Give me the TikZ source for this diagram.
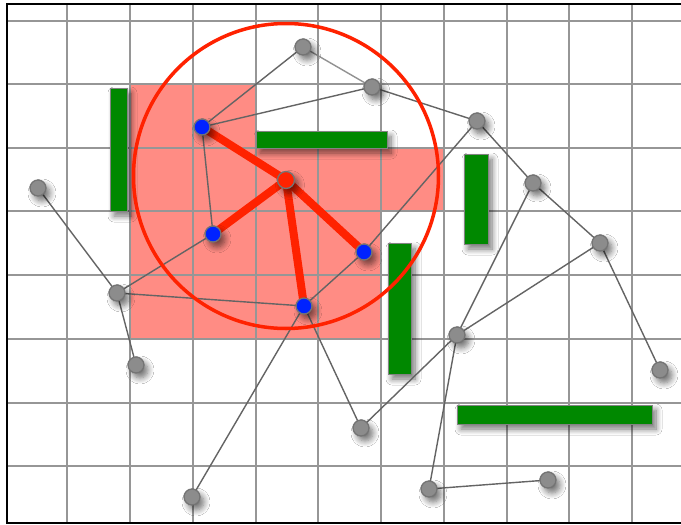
\documentclass[tikz,border=0pt]{standalone}
\usetikzlibrary{shadows.blur}
\definecolor{pinkc}{RGB}{255,140,132}
\definecolor{gridc}{RGB}{150,150,150}
\definecolor{edgec}{RGB}{100,100,100}
\definecolor{nodec}{RGB}{140,140,140}
\definecolor{greenc}{RGB}{0,136,0}
\definecolor{redc}{RGB}{255,34,0}
\definecolor{bluec}{RGB}{0,34,255}
\begin{document}
\begin{tikzpicture}[x=1pt,y=-1pt,
  shad/.style={blur shadow={shadow xshift=4pt,shadow yshift=-5pt,shadow blur radius=6pt,shadow blur steps=8,shadow opacity=55}},
  gnode/.style={circle,draw=edgec!90,line width=1.3pt,fill=nodec,minimum size=16pt,inner sep=0pt,shad},
  bnode/.style={circle,draw=edgec!90,line width=1.3pt,fill=bluec,minimum size=16pt,inner sep=0pt,shad},
  rnode/.style={circle,draw=edgec!90,line width=1.3pt,fill=redc,minimum size=17pt,inner sep=0pt,shad},
  edge/.style={draw=edgec,line width=1.4pt},
  redline/.style={draw=redc,line width=8pt},
  bar/.style={fill=greenc,draw=edgec!80,line width=1pt,shad},
  gridline/.style={draw=gridc,line width=2pt}]
\useasboundingbox (0,0) rectangle (681,525);
\fill[white] (0,0) rectangle (681,525);
\fill[pinkc] (130,84) -- (256,84) -- (256,148) -- (444,148) -- (444,211) -- (381,211) -- (381,339) -- (130,339) -- cycle;
\foreach \x in {67,130,193,256,318,381,444,507,569,632}
  \draw[gridline] (\x,4) -- (\x,523);
\foreach \y in {21,84,148,211,275,339,403,466}
  \draw[gridline] (7,\y) -- (681,\y);
\draw[black,line width=2.2pt] (681,4) -- (7,4) -- (7,523) -- (681,523);
% positions
\coordinate (A) at (303,47);
\coordinate (B) at (372,87);
\coordinate (C) at (477,121);
\coordinate (D) at (533,183);
\coordinate (E) at (600,243);
\coordinate (F) at (38,188);
\coordinate (G) at (117,293);
\coordinate (H) at (136,365);
\coordinate (I) at (192,497);
\coordinate (J) at (457,335);
\coordinate (K) at (660,370);
\coordinate (L) at (361,428);
\coordinate (M) at (429,489);
\coordinate (N) at (548,480);
\coordinate (P1) at (202,127);
\coordinate (P2) at (213,234);
\coordinate (P3) at (364,252);
\coordinate (P4) at (304,306);
\coordinate (R) at (286,180);
% green bars
\path[bar] (110,88) rectangle (127,211);
\path[bar] (256,131) rectangle (387,148);
\path[bar] (464,154) rectangle (488,244);
\path[bar] (388,243) rectangle (411,374);
\path[bar] (457,405) rectangle (652,424);
% connectors
\draw[edge] (A) -- (P1);
\draw[edge,draw=edgec!70] (A) -- (B);
\draw[edge] (B) -- (P1);
\draw[edge] (B) -- (C);
\draw[edge] (C) -- (D);
\draw[edge] (D) -- (E);
\draw[edge] (C) -- (P3);
\draw[edge] (D) -- (J);
\draw[edge] (E) -- (J);
\draw[edge] (E) -- (K);
\draw[edge] (J) -- (L);
\draw[edge] (J) -- (M);
\draw[edge] (M) -- (N);
\draw[edge] (F) -- (G);
\draw[edge] (G) -- (H);
\draw[edge] (G) -- (P2);
\draw[edge] (G) -- (P4);
\draw[edge] (P1) -- (P2);
\draw[edge] (P4) -- (I);
\draw[edge] (P4) -- (L);
\draw[edge] (P4) -- (P3);
\draw[redline] (R) -- (P1);
\draw[redline] (R) -- (P2);
\draw[redline] (R) -- (P3);
\draw[redline] (R) -- (P4);
% nodes
\foreach \n in {A,B,C,D,E,F,G,H,I,J,K,L,M,N}
  \node[gnode] (n\n) at (\n) {};
\foreach \n in {P1,P2,P3,P4}
  \node[bnode] (n\n) at (\n) {};
\node[rnode] (nR) at (R) {};
\node[circle,draw=redc,line width=3.5pt,minimum size=305pt,inner sep=0pt] (ring) at (286,176) {};
\end{tikzpicture}
\end{document}
